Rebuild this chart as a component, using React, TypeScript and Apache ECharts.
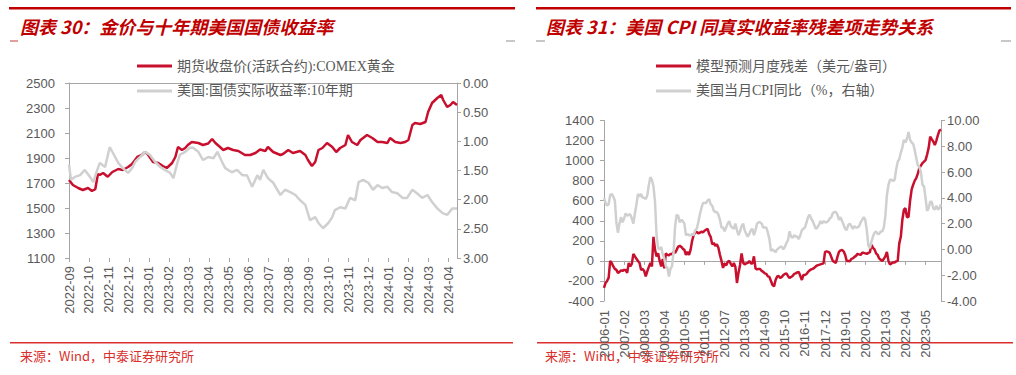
import React, { useEffect, useRef } from "react";
import * as echarts from "echarts";

// ---------- Left chart: gold vs 10Y real yield ----------
const goldName = "期货收盘价(活跃合约):COMEX黄金";
const yieldName = "美国:国债实际收益率:10年期";

const leftTickMonths = ['2022-09','2022-10','2022-11','2022-12','2023-01','2023-02','2023-03','2023-04','2023-05','2023-06','2023-07','2023-08','2023-09','2023-10','2023-11','2023-12','2024-01','2024-02','2024-03','2024-04'];

const goldDates = ['2022-09-01','2022-09-07','2022-09-15','2022-09-22','2022-09-30','2022-10-06','2022-10-11','2022-10-15','2022-10-18','2022-10-23','2022-10-30','2022-11-06','2022-11-15','2022-11-22','2022-11-30','2022-12-06','2022-12-14','2022-12-21','2022-12-26','2022-12-30','2023-01-07','2023-01-15','2023-01-22','2023-01-28','2023-02-05','2023-02-10','2023-02-14','2023-02-20','2023-02-25','2023-03-01','2023-03-07','2023-03-17','2023-03-24','2023-04-01','2023-04-07','2023-04-12','2023-04-19','2023-04-24','2023-05-01','2023-05-09','2023-05-17','2023-05-27','2023-06-04','2023-06-12','2023-06-19','2023-06-27','2023-07-01','2023-07-09','2023-07-20','2023-07-24','2023-08-01','2023-08-08','2023-08-19','2023-08-27','2023-08-31','2023-09-06','2023-09-11','2023-09-16','2023-09-22','2023-09-29','2023-10-07','2023-10-13','2023-10-19','2023-10-27','2023-10-31','2023-11-06','2023-11-14','2023-11-19','2023-11-29','2023-12-07','2023-12-15','2023-12-22','2023-12-30','2024-01-03','2024-01-11','2024-01-19','2024-01-26','2024-01-31','2024-02-06','2024-02-10','2024-02-18','2024-02-26','2024-03-01','2024-03-07','2024-03-15','2024-03-21','2024-03-24','2024-03-30','2024-04-04','2024-04-08','2024-04-14'];
const goldValues = [1724,1684,1660,1644,1660,1636,1650,1770,1765,1780,1750,1788,1812,1804,1828,1852,1908,1924,1948,1930,1868,1860,1836,1820,1860,1908,1988,1964,1980,2004,2028,2020,2004,2016,2052,2020,1988,1964,1980,1964,1956,1924,1924,1940,1968,1956,1988,1948,1924,1932,1964,1940,1956,1924,1884,1836,1868,1964,1980,2020,1988,1948,1980,2004,2084,2028,2004,2044,2084,2060,2028,2028,2020,2060,2028,2020,2028,2044,2164,2180,2172,2188,2268,2340,2380,2404,2364,2308,2324,2348,2324];

const yieldDates = ['2022-09-01','2022-09-04','2022-09-10','2022-09-18','2022-09-25','2022-10-03','2022-10-08','2022-10-14','2022-10-18','2022-10-26','2022-11-02','2022-11-07','2022-11-15','2022-11-22','2022-11-30','2022-12-06','2022-12-11','2022-12-18','2022-12-26','2023-01-02','2023-01-10','2023-01-18','2023-01-25','2023-02-02','2023-02-07','2023-02-13','2023-02-17','2023-02-25','2023-03-04','2023-03-09','2023-03-17','2023-03-24','2023-04-01','2023-04-09','2023-04-15','2023-04-22','2023-04-27','2023-05-07','2023-05-15','2023-05-23','2023-05-30','2023-06-07','2023-06-15','2023-06-19','2023-06-24','2023-07-01','2023-07-09','2023-07-20','2023-07-27','2023-08-04','2023-08-12','2023-08-19','2023-08-27','2023-09-03','2023-09-11','2023-09-16','2023-09-23','2023-10-01','2023-10-07','2023-10-11','2023-10-19','2023-10-27','2023-11-03','2023-11-11','2023-11-16','2023-11-23','2023-12-01','2023-12-08','2023-12-15','2023-12-22','2023-12-30','2024-01-06','2024-01-14','2024-01-22','2024-01-29','2024-02-06','2024-02-13','2024-02-21','2024-02-29','2024-03-07','2024-03-15','2024-03-23','2024-03-30','2024-04-07','2024-04-14'];
const yieldValues = [1.40,1.66,1.61,1.58,1.49,1.61,1.70,1.49,1.37,1.44,1.10,1.20,1.37,1.46,1.54,1.46,1.35,1.27,1.18,1.23,1.35,1.44,1.49,1.54,1.63,1.37,1.23,1.18,1.11,1.11,1.18,1.32,1.27,1.29,1.18,1.35,1.46,1.53,1.49,1.58,1.58,1.78,1.58,1.66,1.49,1.63,1.71,1.92,1.83,1.87,1.92,2.01,2.09,2.35,2.30,2.40,2.49,2.40,2.30,2.18,2.13,2.15,1.97,2.01,1.70,1.66,1.71,1.83,1.75,1.80,1.78,1.87,1.89,1.97,1.97,1.83,1.89,1.97,1.92,2.04,2.15,2.23,2.26,2.15,2.15];

// ---------- Right chart: residual vs US CPI ----------
const residName = "模型预测月度残差（美元/盎司）";
const cpiName = "美国当月CPI同比（%，右轴）";

const monthCategories: string[] = [];
for (let y = 2006; y <= 2024; y++) {
  for (let m = 1; m <= 12; m++) {
    if (y === 2024 && m > 3) break;
    monthCategories.push(`${y}-${String(m).padStart(2, "0")}`);
  }
}

const residValues = [
  -270,-220,-200,-170,0,-20,-55,-80,-90,-120,-110,-95,
  -100,-90,-90,-120,-20,-55,-30,70,45,20,0,-20,
  -90,-80,-100,-155,-105,-60,-20,-55,240,110,45,75,
  0,-55,20,-75,75,60,55,70,65,92,80,110,
  143,150,140,120,110,60,90,60,110,200,260,280,
  290,275,280,290,285,300,310,320,270,240,165,180,
  150,165,130,60,0,-70,-25,-45,-10,0,-30,-55,
  -20,-60,-220,-120,-40,75,-20,-35,-25,-20,0,-25,
  -25,45,-75,-85,-80,-80,-100,-110,-125,-130,-155,-160,
  -200,-240,-255,-190,-155,-150,-170,-160,-140,-130,-125,-150,
  -170,-160,-150,-130,-125,-115,-110,-150,-190,-140,-140,-130,
  -110,-95,-85,-80,-70,-55,-45,-40,-35,-30,-25,90,
  95,90,80,40,0,-10,-20,40,90,105,108,95,
  60,0,0,-5,20,25,40,50,70,65,60,80,
  80,75,70,80,85,160,130,115,75,60,25,10,
  0,20,45,90,0,-35,-25,-15,-15,-5,0,175,
  240,410,510,525,435,440,600,710,760,800,825,870,
  925,950,975,990,1005,1060,1125,1240,1215,1190,1155,1200,
  1255,1300,1310,
];

const cpiValues = [
  4.0,3.6,3.4,3.5,4.2,4.3,4.1,3.8,2.1,1.3,2.0,2.5,
  2.1,2.4,2.8,2.6,2.7,2.7,2.4,2.0,2.8,3.5,4.3,4.1,
  4.3,4.0,4.0,3.9,4.2,5.0,5.6,5.4,4.9,3.7,1.1,0.1,
  0.0,0.2,-0.4,-0.7,-1.3,-1.4,-2.1,-1.5,-1.3,-0.2,1.8,2.7,
  2.6,2.1,2.3,2.2,2.0,1.1,1.2,1.1,1.1,1.2,1.1,1.5,
  1.6,2.1,2.7,3.2,3.6,3.6,3.6,3.8,3.9,3.5,3.4,3.0,
  2.9,2.9,2.7,2.3,1.7,1.7,1.4,1.7,2.0,2.2,1.8,1.7,
  1.6,2.0,1.5,1.1,1.4,1.8,2.0,1.5,1.2,1.0,1.2,1.5,
  1.6,1.1,1.5,2.0,2.1,2.1,2.0,1.7,1.7,1.7,1.3,0.8,
  -0.1,0.0,-0.1,-0.2,0.0,0.1,0.2,0.2,0.0,0.2,0.5,0.7,
  1.4,1.0,0.9,1.1,1.0,1.0,0.8,1.1,1.5,1.6,1.7,2.1,
  2.5,2.7,2.4,2.2,1.9,1.6,1.7,1.9,2.2,2.0,2.2,2.1,
  2.1,2.2,2.4,2.5,2.8,2.9,2.9,2.7,2.3,2.5,2.2,1.9,
  1.6,1.5,1.9,2.0,1.8,1.6,1.8,1.7,1.7,1.8,2.1,2.3,
  2.5,2.3,1.5,0.3,0.1,0.6,1.0,1.3,1.4,1.2,1.2,1.4,
  1.4,1.7,2.6,4.2,5.0,5.4,5.4,5.3,5.4,6.2,6.8,7.0,
  7.5,7.9,8.5,8.3,8.6,9.1,8.5,8.3,8.2,7.7,7.1,6.5,
  6.4,6.0,5.0,4.9,4.0,3.0,3.2,3.7,3.7,3.2,3.1,3.4,
  3.1,3.2,3.5,
];

const leftTitle = "图表 30：金价与十年期美国国债收益率";
const rightTitle = "图表 31：美国 CPI 同真实收益率残差项走势关系";
const sourceText = "来源：Wind，中泰证券研究所";

const RED = "#C8102E";
const GRAY = "#D0D0D0";
const TITLE_RED = "#C00000";
const LABEL = "#595959";
const AXIS = "#A6A6A6";
const SANS = "'Liberation Sans', Arial, 'Noto Sans CJK SC', sans-serif";
const SERIF = "'Liberation Serif', 'Times New Roman', 'Noto Sans CJK SC', serif";

export default function App() {
  const ref = useRef<HTMLDivElement>(null);
  useEffect(() => {
    document.body.style.margin = "0";
    const chart = echarts.init(ref.current!, null, { renderer: "svg" });
    const axisLabel = { color: LABEL, fontSize: 13, fontFamily: SANS };
    const axisLine = { show: true, lineStyle: { color: AXIS, width: 1 } };
    const axisTick = { show: true, length: 4, lineStyle: { color: AXIS } };
    const legendText = { color: LABEL, fontSize: 14, fontFamily: SERIF };
    const plain = (v: number) => String(v);

    // pixel span of the month-label axis: 2022-09-01 .. 2024-04-01 inside the data span
    const t0 = new Date(2022, 8, 1).getTime();
    const tEnd = new Date(2024, 3, 14).getTime();
    const tLast = new Date(2024, 3, 1).getTime();
    const leftPlotWidth = 388;
    const labelWidth = (leftPlotWidth * (tLast - t0)) / (tEnd - t0);

    chart.setOption({
      animation: false,
      backgroundColor: "#ffffff",
      grid: [
        { left: 69, top: 83, width: leftPlotWidth, height: 175 },
        { left: 604, top: 120.5, width: 337, height: 180.5 },
        { left: 69, top: 83, width: labelWidth, height: 175 },
      ],
      legend: [
        {
          data: [goldName, yieldName],
          orient: "vertical",
          left: 132,
          top: 54,
          icon: "rect",
          itemWidth: 35,
          itemHeight: 3,
          itemGap: 11,
          textStyle: legendText,
        },
        {
          data: [residName, cpiName],
          orient: "vertical",
          left: 651,
          top: 54,
          icon: "rect",
          itemWidth: 35,
          itemHeight: 3,
          itemGap: 11,
          textStyle: legendText,
        },
      ],
      xAxis: [
        {
          type: "time",
          gridIndex: 0,
          min: "2022-09-01",
          max: "2024-04-14",
          axisLine,
          axisTick: { show: false },
          splitLine: { show: false },
          axisLabel: { show: false },
        },
        {
          type: "category",
          gridIndex: 1,
          data: monthCategories,
          boundaryGap: false,
          axisLine: { ...axisLine, onZero: true },
          axisTick: { ...axisTick, interval: 12 },
          axisLabel: { ...axisLabel, rotate: 90, margin: 9, interval: 12 },
        },
        {
          type: "category",
          gridIndex: 2,
          data: leftTickMonths,
          boundaryGap: false,
          axisLine: { show: false },
          axisTick: { ...axisTick, interval: 0 },
          splitLine: { show: false },
          axisLabel: { ...axisLabel, rotate: 90, margin: 8, interval: 0 },
        },
      ],
      yAxis: [
        {
          type: "value",
          gridIndex: 0,
          min: 1100,
          max: 2500,
          interval: 200,
          axisLine,
          axisTick,
          splitLine: { show: false },
          axisLabel: { ...axisLabel, margin: 14, formatter: plain },
        },
        {
          type: "value",
          gridIndex: 0,
          position: "right",
          min: 0,
          max: 3,
          interval: 0.5,
          inverse: true,
          axisLine,
          axisTick,
          splitLine: { show: false },
          axisLabel: { ...axisLabel, margin: 6, formatter: (v: number) => v.toFixed(2) },
        },
        {
          type: "value",
          gridIndex: 1,
          min: -400,
          max: 1400,
          interval: 200,
          axisLine,
          axisTick,
          splitLine: { show: false },
          axisLabel: { ...axisLabel, margin: 10, formatter: plain },
        },
        {
          type: "value",
          gridIndex: 1,
          position: "right",
          min: -4,
          max: 10,
          interval: 2,
          axisLine,
          axisTick,
          splitLine: { show: false },
          axisLabel: { ...axisLabel, margin: 6, formatter: (v: number) => v.toFixed(2) },
        },
        {
          type: "value",
          gridIndex: 2,
          show: false,
          min: 0,
          max: 1,
        },
      ],
      series: [
        {
          name: goldName,
          type: "line",
          xAxisIndex: 0,
          yAxisIndex: 0,
          symbol: "none",
          lineStyle: { color: RED, width: 2.5 },
          itemStyle: { color: RED },
          data: goldDates.map((d, i) => [d, goldValues[i]]),
        },
        {
          name: yieldName,
          type: "line",
          xAxisIndex: 0,
          yAxisIndex: 1,
          symbol: "none",
          lineStyle: { color: GRAY, width: 2.5 },
          itemStyle: { color: GRAY },
          data: yieldDates.map((d, i) => [d, yieldValues[i]]),
        },
        {
          name: residName,
          type: "line",
          xAxisIndex: 1,
          yAxisIndex: 2,
          symbol: "none",
          lineStyle: { color: RED, width: 2.5 },
          itemStyle: { color: RED },
          data: residValues,
        },
        {
          name: cpiName,
          type: "line",
          xAxisIndex: 1,
          yAxisIndex: 3,
          symbol: "none",
          lineStyle: { color: GRAY, width: 2.5 },
          itemStyle: { color: GRAY },
          data: cpiValues,
        },
      ],
      graphic: [
        { type: "rect", shape: { x: 9, y: 7, width: 506, height: 2.5 }, style: { fill: TITLE_RED } },
        { type: "rect", shape: { x: 536, y: 7, width: 475, height: 2.5 }, style: { fill: TITLE_RED } },
        { type: "line", shape: { x1: 10, y1: 41, x2: 18, y2: 41 }, style: { stroke: "#C04040", lineWidth: 1 } },
        { type: "line", shape: { x1: 506, y1: 41, x2: 515, y2: 41 }, style: { stroke: "#909090", lineWidth: 1 } },
        { type: "line", shape: { x1: 536, y1: 41, x2: 545, y2: 41 }, style: { stroke: "#909090", lineWidth: 1 } },
        { type: "line", shape: { x1: 1001, y1: 41, x2: 1011, y2: 41 }, style: { stroke: "#909090", lineWidth: 1 } },
        {
          type: "text",
          x: 20,
          y: 26,
          style: { text: leftTitle, fill: TITLE_RED, font: `italic bold 18px 'Noto Sans CJK SC', sans-serif`, verticalAlign: "middle" },
        },
        {
          type: "text",
          x: 546,
          y: 26,
          style: { text: rightTitle, fill: TITLE_RED, font: `italic bold 18px 'Noto Sans CJK SC', sans-serif`, verticalAlign: "middle" },
        },
        { type: "rect", shape: { x: 10, y: 342, width: 503, height: 1.5 }, style: { fill: "#D9302C" } },
        { type: "rect", shape: { x: 537, y: 342, width: 476, height: 1.5 }, style: { fill: "#D9302C" } },
        {
          type: "text",
          x: 20,
          y: 355,
          style: { text: sourceText, fill: "#D9302C", font: `13px 'Noto Sans CJK SC', sans-serif`, verticalAlign: "middle" },
        },
        {
          type: "text",
          x: 545,
          y: 355,
          style: { text: sourceText, fill: "#D9302C", font: `13px 'Noto Sans CJK SC', sans-serif`, verticalAlign: "middle" },
        },
      ],
    });
    return () => chart.dispose();
  }, []);
  return <div ref={ref} style={{ width: 1016, height: 375 }} />;
}
